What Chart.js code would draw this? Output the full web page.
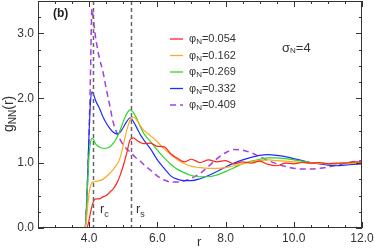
<!DOCTYPE html>
<html>
<head>
<meta charset="utf-8">
<script src="https://cdn.jsdelivr.net/npm/chart.js@4.4.1/dist/chart.umd.min.js"></script>
<style>
  html, body { margin: 0; padding: 0; background: #fff; }
</style>
</head>
<body>
<canvas id="chart" width="374" height="251"></canvas>
<script>
// r grid shared by all curves
const r = [2.5, 3.88, 3.92, 3.96, 4.0, 4.04, 4.08, 4.12, 4.16, 4.2, 4.3, 4.4, 4.5, 4.6, 4.7, 4.8, 4.9, 5.0, 5.1, 5.2,
  5.3, 5.4, 5.5, 5.6, 5.8, 6.0, 6.2, 6.4, 6.6, 6.8, 7.0, 7.25, 7.5, 7.75, 8.0, 8.25, 8.5, 8.75, 9.0, 9.25,
  9.5, 9.75, 10.0, 10.25, 10.5, 10.75, 11.0, 11.25, 11.5, 11.75, 12.0];

// g_NN(r) for each phi_N
const g054 = [0, 0, 0, 0.04, 0.13, 0.24, 0.33, 0.4, 0.44, 0.45, 0.45, 0.48, 0.5, 0.55, 0.6, 0.68, 0.8, 0.96, 1.15, 1.36,
  1.39, 1.35, 1.32, 1.3, 1.31, 1.26, 1.25, 1.14, 1.07, 1.02, 1.06, 1.01, 1.05, 1.02, 1.04, 0.99, 1.02, 1.0, 1.03, 0.98,
  0.96, 1.0, 0.99, 1.01, 1.0, 1.01, 0.99, 1.0, 1.0, 1.02, 1.02];
const g162 = [0, 0, 0.12, 0.35, 0.55, 0.65, 0.7, 0.71, 0.72, 0.72, 0.73, 0.75, 0.79, 0.84, 0.9, 0.97, 1.07, 1.28, 1.5, 1.66,
  1.71, 1.66, 1.58, 1.51, 1.42, 1.33, 1.22, 1.13, 1.05, 0.99, 0.95, 0.93, 0.92, 0.92, 0.93, 0.96, 0.99, 1.02, 1.04, 1.05,
  1.04, 1.03, 1.02, 1.01, 1.0, 1.0, 0.99, 0.99, 1.0, 1.0, 1.01];
const g269 = [0, 0, 0.25, 0.75, 1.15, 1.32, 1.38, 1.37, 1.33, 1.29, 1.25, 1.23, 1.23, 1.25, 1.3, 1.38, 1.5, 1.64, 1.76, 1.82,
  1.78, 1.68, 1.56, 1.46, 1.33, 1.2, 1.08, 0.98, 0.9, 0.85, 0.81, 0.79, 0.79, 0.82, 0.87, 0.93, 0.99, 1.03, 1.06, 1.08,
  1.08, 1.07, 1.05, 1.03, 1.01, 1.0, 0.99, 0.99, 1.0, 1.0, 1.01];
const g332 = [0, 0, 0.3, 0.85, 1.5, 1.95, 2.1, 2.07, 2.01, 1.95, 1.85, 1.72, 1.62, 1.54, 1.48, 1.45, 1.47, 1.55, 1.64, 1.7,
  1.64, 1.54, 1.44, 1.36, 1.22, 1.05, 0.92, 0.8, 0.75, 0.73, 0.73, 0.76, 0.81, 0.87, 0.94, 1.0, 1.05, 1.09, 1.12, 1.13,
  1.12, 1.1, 1.07, 1.04, 1.01, 0.99, 0.97, 0.96, 0.97, 0.98, 0.99];
const g409 = [0, 0, 0.3, 0.85, 1.5, 2.4, 3.38, 3.22, 3.05, 2.9, 2.62, 2.42, 2.15, 1.9, 1.64, 1.48, 1.37, 1.28, 1.22, 1.17,
  1.12, 1.07, 1.03, 0.98, 0.89, 0.8, 0.74, 0.71, 0.71, 0.73, 0.77, 0.84, 0.95, 1.07, 1.16, 1.21, 1.2, 1.16, 1.1, 1.04,
  0.99, 0.95, 0.92, 0.91, 0.91, 0.92, 0.94, 0.97, 1.0, 1.02, 1.04];

const phiLabels = ['0.054', '0.162', '0.269', '0.332', '0.409'];
const series = [g054, g162, g269, g332, g409];
const colors = ['#ff2418', '#ffaa22', '#2fd52a', '#1f2eff', '#a53fe0'];
const dashes = [[], [], [], [], [6, 4]];

const rC = 4.1;
const rS = 5.23;

const FONT = "'Liberation Sans', Arial, sans-serif";
Chart.defaults.font.family = FONT;
Chart.defaults.color = '#333';

function toPoints(ys) {
  return ys.map((y, i) => ({ x: r[i], y: y }));
}

// draw a run of text pieces: [text, size, dy, bold]
function drawParts(ctx, x, y, parts) {
  parts.forEach(p => {
    ctx.font = (p[3] ? 'bold ' : '') + p[1] + 'px ' + FONT;
    ctx.fillText(p[0], x, y + p[2]);
    x += ctx.measureText(p[0]).width;
  });
}

const decor = {
  id: 'decor',
  afterDatasetsDraw(chart) {
    const ctx = chart.ctx;
    const a = chart.chartArea;
    const xs = chart.scales.x;
    const ys = chart.scales.y;
    ctx.save();

    // r_c and r_s markers
    ctx.strokeStyle = '#666';
    ctx.lineWidth = 1.5;
    ctx.setLineDash([4, 3]);
    [rC, rS].forEach(v => {
      const px = Math.round(xs.getPixelForValue(v)) + 0.5;
      ctx.beginPath();
      ctx.moveTo(px, a.top);
      ctx.lineTo(px, a.bottom);
      ctx.stroke();
    });
    ctx.setLineDash([]);

    // frame
    ctx.strokeStyle = '#333';
    ctx.lineWidth = 1;
    ctx.strokeRect(a.left + 0.5, a.top + 0.5, a.right - a.left - 1, a.bottom - a.top - 1);

    // inward ticks on all sides
    ctx.beginPath();
    xs.ticks.forEach(t => {
      const px = Math.round(xs.getPixelForValue(t.value)) + 0.5;
      const len = t.value % 2 === 0 ? 6 : 3;
      ctx.moveTo(px, a.bottom); ctx.lineTo(px, a.bottom - len);
      ctx.moveTo(px, a.top); ctx.lineTo(px, a.top + len);
    });
    ys.ticks.forEach(t => {
      const py = Math.round(ys.getPixelForValue(t.value)) + 0.5;
      const len = t.value % 1 === 0 ? 6 : 3;
      ctx.moveTo(a.left, py); ctx.lineTo(a.left + len, py);
      ctx.moveTo(a.right, py); ctx.lineTo(a.right - len, py);
    });
    ctx.stroke();

    // legend
    ctx.fillStyle = '#333';
    ctx.textBaseline = 'middle';
    phiLabels.forEach((lab, i) => {
      const y = 39 + i * 16.5;
      ctx.strokeStyle = colors[i];
      ctx.lineWidth = 1.3;
      ctx.setLineDash(dashes[i]);
      ctx.beginPath();
      ctx.moveTo(170, y);
      ctx.lineTo(183, y);
      ctx.stroke();
      ctx.setLineDash([]);
      drawParts(ctx, 189, y, [['\u03c6', 11, 0], ['N', 8, 3], ['=' + lab, 11, 0]]);
    });

    // annotations
    drawParts(ctx, 282, 48, [['\u03c3', 13, 0], ['N', 8, 3], ['=4', 13, 0]]);
    ctx.fillStyle = '#222';
    drawParts(ctx, 53, 14, [['(b)', 12, 0, true]]);
    ctx.fillStyle = '#333';
    ctx.textBaseline = 'alphabetic';
    drawParts(ctx, 100, 213, [['r', 13, 0], ['c', 9, 4]]);
    drawParts(ctx, 136, 213, [['r', 13, 0], ['s', 9, 4]]);
    drawParts(ctx, 197, 246, [['r', 13, 0]]);

    // y axis title, rotated
    ctx.translate(13, 132);
    ctx.rotate(-Math.PI / 2);
    drawParts(ctx, 0, 0, [['g', 14, 0], ['NN', 10, 3], ['(r)', 14, 0]]);
    ctx.restore();
  }
};

const datasets = series.map((ys, i) => ({
  label: '\u03c6N=' + phiLabels[i],
  data: toPoints(ys),
  borderColor: colors[i],
  borderWidth: i === 4 ? 1.5 : 1.2,
  borderDash: dashes[i],
  pointRadius: 0,
  cubicInterpolationMode: 'monotone',
  fill: false
}));

new Chart(document.getElementById('chart').getContext('2d'), {
  type: 'line',
  data: { datasets: datasets },
  plugins: [decor],
  options: {
    responsive: false,
    animation: false,
    layout: { padding: { top: 1, right: 12, left: 0, bottom: 0 } },
    plugins: {
      legend: { display: false },
      tooltip: { enabled: false }
    },
    scales: {
      x: {
        type: 'linear',
        min: 2.5,
        max: 12,
        grid: { display: false, drawTicks: true, tickLength: 3 },
        border: { display: false },
        ticks: {
          stepSize: 0.5,
          autoSkip: false,
          maxRotation: 0,
          padding: 0,
          font: { size: 12 },
          callback: v => (v % 2 === 0 && v >= 4 ? v.toFixed(1) : '')
        },
        afterFit: s => { s.height = 23; s.paddingLeft = 0; s.paddingRight = 0; }
      },
      y: {
        min: 0,
        max: 3.5,
        grid: { display: false, drawTicks: true, tickLength: 4 },
        border: { display: false },
        ticks: {
          stepSize: 0.25,
          autoSkip: false,
          padding: 0,
          font: { size: 12, lineHeight: 0 },
          callback: v => (v % 1 === 0 && v <= 3 ? v.toFixed(1) : '')
        },
        afterFit: s => { s.width = 38; s.paddingTop = 0; s.paddingBottom = 0; }
      }
    }
  }
});
</script>
</body>
</html>
